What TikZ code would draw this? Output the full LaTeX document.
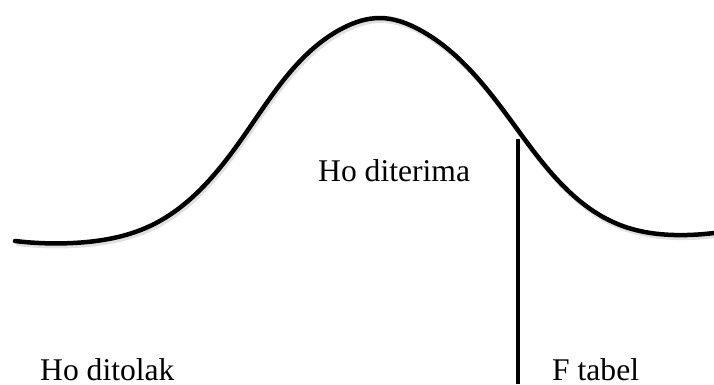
\documentclass[tikz,border=0pt]{standalone}
\usepackage{fontspec}
\setmainfont{Liberation Serif}
\usetikzlibrary{hobby}
\begin{document}
\begin{tikzpicture}[x=1pt,y=-1pt,
  curve/.style={line width=4.5pt,line cap=round,use Hobby shortcut},
  shadowcurve/.style={line width=5pt,draw=black!12,use Hobby shortcut},
  lbl/.style={inner sep=0pt,text depth=0pt,anchor=base west,font=\fontsize{31.6}{38}\selectfont}]
\useasboundingbox (0,0) rectangle (714,384);
\def\bellpath{(15,241) .. (73,243) .. (150,226) .. (250,127) .. (343,28) .. (380,18) .. (420,30) .. (520,133) .. (620,225) .. (687,235) .. (714,233)}
\begin{scope}[shift={(1.5,2.5)}]
\draw[shadowcurve] \bellpath;
\end{scope}
\draw[curve] \bellpath;
\coordinate (ftop) at (518,139);
\coordinate (fbot) at (518,384);
\draw[line width=4pt] (ftop) -- (fbot);
\node[lbl] (acc) at (318,181) {Ho diterima};
\node[lbl] (rej) at (40,380) {Ho ditolak};
\node[lbl] (ft) at (552,380) {F tabel};
\end{tikzpicture}
\end{document}
